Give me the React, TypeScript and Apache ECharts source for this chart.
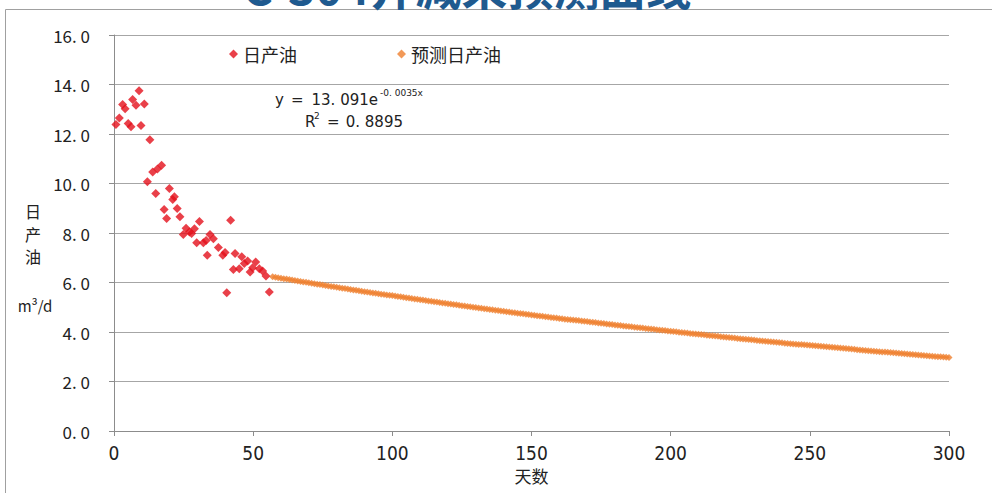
import React, { useEffect, useRef } from "react";
import * as echarts from "echarts";

// Measured daily oil output: [day, m³/d]
const observedDays = [
  0.7, 1.9, 3.1, 4.0, 5.1, 6.1, 6.7, 7.9, 9.0, 9.7, 10.9, 12.0, 12.9, 13.9, 15.0,
  15.6, 17.1, 18.0, 18.9, 19.9, 21.1, 21.7, 22.7, 23.7, 24.9, 25.9, 27.1, 27.9,
  28.9, 29.7, 30.7, 32.1, 33.1, 33.5, 34.5, 35.7, 37.5, 39.1, 39.9, 40.5, 41.9,
  42.9, 43.5, 45.0, 45.9, 46.8, 48.0, 48.9, 49.8, 50.9, 52.2, 53.4, 54.6, 55.8,
];
const observedOil = [
  12.38, 12.65, 13.19, 13.02, 12.42, 12.29, 13.39, 13.16, 13.75, 12.34, 13.21,
  10.07, 11.77, 10.46, 9.6, 10.59, 10.74, 8.95, 8.59, 9.8, 9.35, 9.46, 8.99, 8.66,
  7.94, 8.19, 8.04, 7.98, 8.17, 7.61, 8.46, 7.61, 7.7, 7.1, 7.94, 7.77, 7.41, 7.1,
  7.21, 5.59, 8.52, 6.53, 7.17, 6.56, 7.04, 6.77, 6.87, 6.42, 6.6, 6.83, 6.56,
  6.46, 6.26, 5.62,
];

// Forecast daily oil output, one value per day starting at forecastStartDay
const forecastStartDay = 57;
const forecastOil = [
  6.23, 6.21, 6.19, 6.17, 6.15, 6.14, 6.12, 6.1, 6.08, 6.06,
  6.04, 6.02, 6.01, 5.99, 5.97, 5.95, 5.93, 5.92, 5.9, 5.88,
  5.86, 5.84, 5.83, 5.81, 5.79, 5.77, 5.76, 5.74, 5.72, 5.7,
  5.69, 5.67, 5.65, 5.63, 5.62, 5.6, 5.58, 5.57, 5.55, 5.53,
  5.52, 5.5, 5.48, 5.47, 5.45, 5.43, 5.42, 5.4, 5.38, 5.37,
  5.35, 5.33, 5.32, 5.3, 5.29, 5.27, 5.25, 5.24, 5.22, 5.21,
  5.19, 5.17, 5.16, 5.14, 5.13, 5.11, 5.1, 5.08, 5.06, 5.05,
  5.03, 5.02, 5.0, 4.99, 4.97, 4.96, 4.94, 4.93, 4.91, 4.9,
  4.88, 4.87, 4.85, 4.84, 4.82, 4.81, 4.79, 4.78, 4.76, 4.75,
  4.74, 4.72, 4.71, 4.69, 4.68, 4.66, 4.65, 4.64, 4.62, 4.61,
  4.59, 4.58, 4.57, 4.55, 4.54, 4.52, 4.51, 4.5, 4.48, 4.47,
  4.46, 4.44, 4.43, 4.42, 4.4, 4.39, 4.38, 4.36, 4.35, 4.34,
  4.32, 4.31, 4.3, 4.28, 4.27, 4.26, 4.24, 4.23, 4.22, 4.21,
  4.19, 4.18, 4.17, 4.16, 4.14, 4.13, 4.12, 4.11, 4.09, 4.08,
  4.07, 4.06, 4.04, 4.03, 4.02, 4.01, 3.99, 3.98, 3.97, 3.96,
  3.94, 3.93, 3.92, 3.91, 3.9, 3.89, 3.87, 3.86, 3.85, 3.84,
  3.83, 3.81, 3.8, 3.79, 3.78, 3.77, 3.76, 3.74, 3.73, 3.72,
  3.71, 3.7, 3.69, 3.68, 3.66, 3.65, 3.64, 3.63, 3.62, 3.61,
  3.6, 3.59, 3.58, 3.57, 3.55, 3.54, 3.53, 3.52, 3.51, 3.5,
  3.49, 3.48, 3.47, 3.46, 3.45, 3.44, 3.43, 3.42, 3.41, 3.4,
  3.39, 3.38, 3.37, 3.36, 3.35, 3.34, 3.33, 3.32, 3.31, 3.3,
  3.28, 3.27, 3.26, 3.25, 3.24, 3.23, 3.22, 3.21, 3.2, 3.19,
  3.19, 3.18, 3.17, 3.16, 3.15, 3.14, 3.13, 3.12, 3.11, 3.1,
  3.09, 3.08, 3.07, 3.06, 3.05, 3.04, 3.03, 3.02, 3.01, 3.0,
  3.0, 2.99, 2.98, 2.97,
];

const seriesNames = ["日产油", "预测日产油"];
const titleText = "C-304井减采预测曲线";
const xAxisName = "天数";
const yAxisNameChars = ["日", "产", "油"];
const yAxisUnit = "m³/d";
const fitCoefficient = "13. 091e";
const fitExponent = "-0. 0035x";
const fitR2 = "0. 8895";

const CJK = '"Noto Sans CJK SC", "Noto Sans", sans-serif';
const NARROW = '"Liberation Sans Narrow", "DejaVu Sans Condensed", "Liberation Sans", sans-serif';
const EQ = '"DejaVu Sans", "Liberation Sans", sans-serif';
const TEXT = "#222";

// Plain text element for the trend-line annotation
const eqText = (
  text: string,
  x: number,
  y: number,
  size: number,
  align: "left" | "right" = "left"
) => ({
  type: "text",
  x,
  y,
  silent: true,
  style: {
    text,
    align,
    verticalAlign: "middle",
    fontFamily: EQ,
    fontSize: size,
    fill: TEXT,
  },
});

export default function App() {
  const ref = useRef<HTMLDivElement>(null);

  useEffect(() => {
    if (!ref.current) return;
    const chart = echarts.init(ref.current, undefined, { renderer: "svg" });

    const observed = observedDays.map((d, i) => [d, observedOil[i]]);
    const forecast = forecastOil.map((v, i) => [forecastStartDay + i, v]);

    chart.setOption({
      animation: false,
      backgroundColor: "#ffffff",
      grid: { left: 114, right: 43, top: 35, bottom: 62 },
      legend: {
        left: 224,
        top: 40,
        itemGap: 100,
        itemWidth: 9,
        itemHeight: 9,
        textStyle: { fontFamily: CJK, fontSize: 18, color: TEXT },
        data: [
          { name: seriesNames[0], icon: "diamond" },
          { name: seriesNames[1], icon: "diamond" },
        ],
      },
      xAxis: {
        type: "value",
        min: 0,
        max: 300,
        interval: 50,
        name: xAxisName,
        nameLocation: "middle",
        nameGap: 36,
        nameTextStyle: { fontFamily: CJK, fontSize: 17, color: TEXT },
        axisLine: { show: true, lineStyle: { color: "#8c8c8c", width: 1 } },
        axisTick: { show: true, length: 5, lineStyle: { color: "#8c8c8c" } },
        axisLabel: { margin: 12, fontFamily: NARROW, fontSize: 19, color: TEXT },
        splitLine: { show: false },
      },
      yAxis: {
        type: "value",
        min: 0,
        max: 16,
        interval: 2,
        axisLine: { show: true, lineStyle: { color: "#8c8c8c", width: 1 } },
        axisTick: { show: true, length: 5, lineStyle: { color: "#8c8c8c" } },
        axisLabel: {
          margin: 24,
          fontFamily: CJK,
          fontSize: 17,
          color: TEXT,
          formatter: (v: number) => v.toFixed(1).replace(".", ". "),
        },
        splitLine: { show: true, lineStyle: { color: "#a6a6a6", width: 1 } },
      },
      series: [
        {
          name: seriesNames[1],
          type: "scatter",
          symbol: "diamond",
          symbolSize: 7,
          itemStyle: { color: "#ef7f2e" },
          data: forecast,
          z: 2,
        },
        {
          name: seriesNames[0],
          type: "scatter",
          symbol: "diamond",
          symbolSize: 9,
          itemStyle: { color: "#e4101c" },
          data: observed,
          z: 3,
        },
      ],
      graphic: [
        {
          type: "rect",
          shape: { x: 5.5, y: 9.5, width: 990, height: 490 },
          style: { fill: "none", stroke: "#a0a0a0", lineWidth: 1 },
          silent: true,
          z: 0,
        },
        {
          type: "text",
          x: 467,
          y: 8,
          style: {
            text: titleText,
            align: "center",
            verticalAlign: "bottom",
            fontFamily: CJK,
            fontWeight: "bold",
            fontSize: 46,
            fill: "#1f5a8f",
          },
          silent: true,
        },
        ...yAxisNameChars.map((ch, i) => ({
          type: "text",
          x: 33,
          y: 211 + i * 22.5,
          style: {
            text: ch,
            align: "center",
            verticalAlign: "middle",
            fontFamily: CJK,
            fontSize: 16,
            fill: TEXT,
          },
          silent: true,
        })),
        {
          type: "text",
          x: 35,
          y: 305,
          style: {
            text: yAxisUnit,
            align: "center",
            verticalAlign: "middle",
            fontFamily: CJK,
            fontSize: 15,
            fill: TEXT,
          },
          silent: true,
        },
        // y = 13.091e^(-0.0035x)
        eqText("y", 275, 100, 15),
        eqText("=", 291, 100, 15),
        eqText(fitCoefficient, 378, 100, 15, "right"),
        eqText(fitExponent, 380, 93, 9),
        // R² = 0.8895
        eqText("R", 305, 122, 15),
        eqText("2", 314, 116, 9),
        eqText("=", 327, 122, 15),
        eqText(fitR2, 403, 122, 15, "right"),
      ],
    });

    return () => chart.dispose();
  }, []);

  return (
    <div
      ref={ref}
      style={{ position: "fixed", left: 0, top: 0, width: 992, height: 493 }}
    />
  );
}
